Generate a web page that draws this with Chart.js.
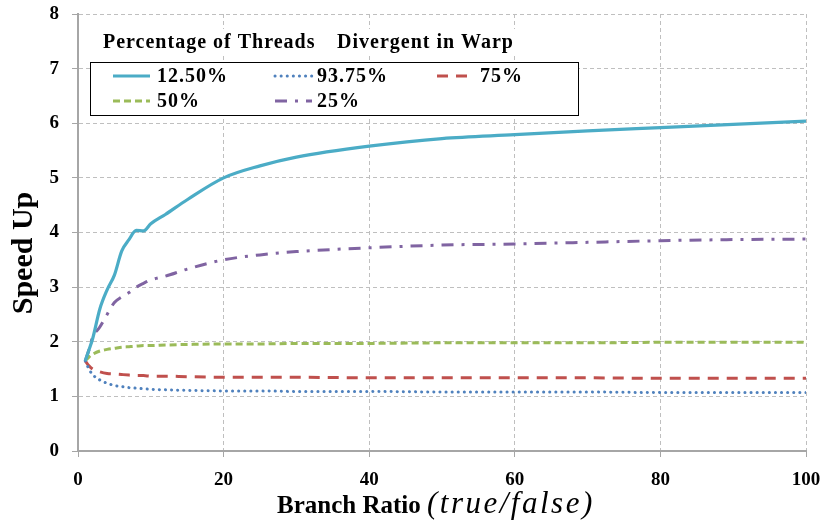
<!DOCTYPE html>
<html>
<head>
<meta charset="utf-8">
<script src="https://cdn.jsdelivr.net/npm/chart.js@4.4.1/dist/chart.umd.min.js"></script>
<style>
  html, body { margin: 0; padding: 0; background: #fff; }
</style>
</head>
<body>
<canvas id="speedup" width="823" height="525"></canvas>
<script>
/* ── Data ─────────────────────────────────────────────── */
const branchRatio = [1, 1.5, 2, 3, 4, 5, 6, 7, 8, 9, 10, 12, 15, 20, 25, 30, 40, 50, 60, 70, 80, 90, 100];

const seriesLabels = ['12.50%', '93.75%', '75%', '50%', '25%'];

const speed12_5  = [1.65, 1.85, 2.05, 2.60, 2.95, 3.22, 3.66, 3.87, 4.04, 4.03, 4.16, 4.33, 4.60, 5.00, 5.22, 5.38, 5.58, 5.72, 5.79, 5.86, 5.92, 5.98, 6.04];
const speed93_75 = [1.65, 1.50, 1.40, 1.30, 1.24, 1.20, 1.18, 1.16, 1.15, 1.14, 1.13, 1.12, 1.11, 1.10, 1.10, 1.09, 1.09, 1.08, 1.08, 1.08, 1.07, 1.07, 1.07];
const speed75    = [1.65, 1.56, 1.50, 1.45, 1.42, 1.41, 1.40, 1.39, 1.38, 1.38, 1.37, 1.37, 1.36, 1.35, 1.35, 1.35, 1.34, 1.34, 1.34, 1.34, 1.33, 1.33, 1.33];
const speed50    = [1.65, 1.72, 1.77, 1.83, 1.86, 1.88, 1.90, 1.91, 1.92, 1.93, 1.93, 1.94, 1.95, 1.96, 1.96, 1.97, 1.97, 1.98, 1.98, 1.98, 1.99, 1.99, 1.99];
const speed25    = [1.65, 1.85, 2.08, 2.27, 2.50, 2.72, 2.82, 2.90, 3.00, 3.07, 3.13, 3.20, 3.33, 3.50, 3.59, 3.65, 3.72, 3.77, 3.79, 3.82, 3.85, 3.87, 3.88];

const xTicks = [0, 20, 40, 60, 80, 100];
const yTicks = [0, 1, 2, 3, 4, 5, 6, 7, 8];

const FONT = "'Liberation Serif', 'Times New Roman', serif";

const toPoints = ys => branchRatio.map((x, i) => ({ x, y: ys[i] }));

const styles = [
  { color: '#4BACC6', dash: [],             width: 3.2, cap: 'butt'  },
  { color: '#4F81BD', dash: [0.1, 6],       width: 3,   cap: 'round' },
  { color: '#C0504D', dash: [11, 8],        width: 3,   cap: 'butt'  },
  { color: '#9BBB59', dash: [7, 4],         width: 3,   cap: 'butt'  },
  { color: '#8064A2', dash: [12, 8, 3, 8],  width: 3,   cap: 'butt'  },
];
const seriesData = [speed12_5, speed93_75, speed75, speed50, speed25];

const datasets = seriesData.map((ys, i) => ({
  label: seriesLabels[i],
  data: toPoints(ys),
  borderColor: styles[i].color,
  borderWidth: styles[i].width,
  borderDash: styles[i].dash,
  borderCapStyle: styles[i].cap,
  pointRadius: 0,
  fill: false,
  cubicInterpolationMode: 'monotone',
}));

/* ── Boxed legend, heading and axis titles ────────────── */
const chartText = {
  id: 'chartText',
  afterDraw(chart) {
    const ctx = chart.ctx;
    ctx.save();

    // heading strip hides the grid behind it
    ctx.fillStyle = '#fff';
    ctx.fillRect(96, 29, 430, 27);
    ctx.fillStyle = '#000';
    ctx.font = `bold 20px ${FONT}`;
    ctx.letterSpacing = '1px';
    ctx.textBaseline = 'middle';
    ctx.textAlign = 'left';
    ctx.fillText('Percentage of Threads', 103, 43);
    ctx.fillText('Divergent in Warp', 337, 43);

    // legend box
    ctx.fillStyle = '#fff';
    ctx.fillRect(90, 62, 488, 53);
    ctx.strokeStyle = '#000';
    ctx.lineWidth = 1;
    ctx.strokeRect(90.5, 62.5, 488, 53);

    const slots = [
      { x: 113, tx: 157, y: 76 }, { x: 275, tx: 317, y: 76 }, { x: 437, tx: 480, y: 76 },
      { x: 113, tx: 157, y: 101 }, { x: 275, tx: 317, y: 101 },
    ];
    slots.forEach((s, i) => {
      const st = styles[i];
      ctx.strokeStyle = st.color;
      ctx.lineWidth = st.width;
      ctx.lineCap = st.cap;
      ctx.setLineDash(st.dash);
      ctx.beginPath();
      ctx.moveTo(s.x, s.y);
      ctx.lineTo(s.x + 37, s.y);
      ctx.stroke();
      ctx.setLineDash([]);
      ctx.fillStyle = '#000';
      ctx.fillText(seriesLabels[i], s.tx, s.y + 1);
    });

    // y axis title
    ctx.letterSpacing = '0px';
    ctx.textBaseline = 'alphabetic';
    ctx.textAlign = 'center';
    ctx.font = `bold 30px ${FONT}`;
    ctx.save();
    ctx.translate(32, 253);
    ctx.rotate(-Math.PI / 2);
    ctx.fillText('Speed Up', 0, 0);
    ctx.restore();

    // x axis title: bold name followed by italic unit
    ctx.textAlign = 'left';
    ctx.font = `bold 25px ${FONT}`;
    ctx.fillText('Branch Ratio', 277, 513);
    ctx.font = `italic 31px ${FONT}`;
    ctx.letterSpacing = '2.5px';
    ctx.fillText('(true/false)', 427, 513);

    ctx.restore();
  }
};

// keep the plot area fixed regardless of tick label overhang
const noOverhang = s => {
  s.paddingLeft = 0; s.paddingRight = 0;
  s.paddingTop = 0;  s.paddingBottom = 0;
};

/* ── Chart ────────────────────────────────────────────── */
new Chart(document.getElementById('speedup'), {
  type: 'line',
  data: { datasets },
  plugins: [chartText],
  options: {
    responsive: false,
    animation: false,
    layout: { padding: { top: 14, right: 17, left: 0, bottom: 0 } },
    plugins: {
      legend: { display: false },
      tooltip: { enabled: false },
    },
    scales: {
      x: {
        type: 'linear',
        min: 0,
        max: 100,
        afterBuildTicks: s => { s.ticks = xTicks.map(v => ({ value: v })); },
        afterFit: s => { s.height = 74; noOverhang(s); },
        grid: { color: '#BFBFBF', lineWidth: 1, tickLength: 6, tickColor: '#A6A6A6', tickBorderDash: [] },
        border: { color: '#A6A6A6', width: 2, dash: [4, 3] },
        ticks: { color: '#000', font: { family: FONT, size: 19, weight: 'bold' }, padding: 12 },
      },
      y: {
        min: 0,
        max: 8,
        afterBuildTicks: s => { s.ticks = yTicks.map(v => ({ value: v })); },
        afterFit: s => { s.width = 78; noOverhang(s); },
        grid: { color: '#BFBFBF', lineWidth: 1, tickLength: 6, tickColor: '#A6A6A6', tickBorderDash: [] },
        border: { color: '#A6A6A6', width: 2, dash: [4, 3] },
        ticks: { color: '#000', font: { family: FONT, size: 19, weight: 'bold' }, padding: 13 },
      },
    },
  },
});
</script>
</body>
</html>
